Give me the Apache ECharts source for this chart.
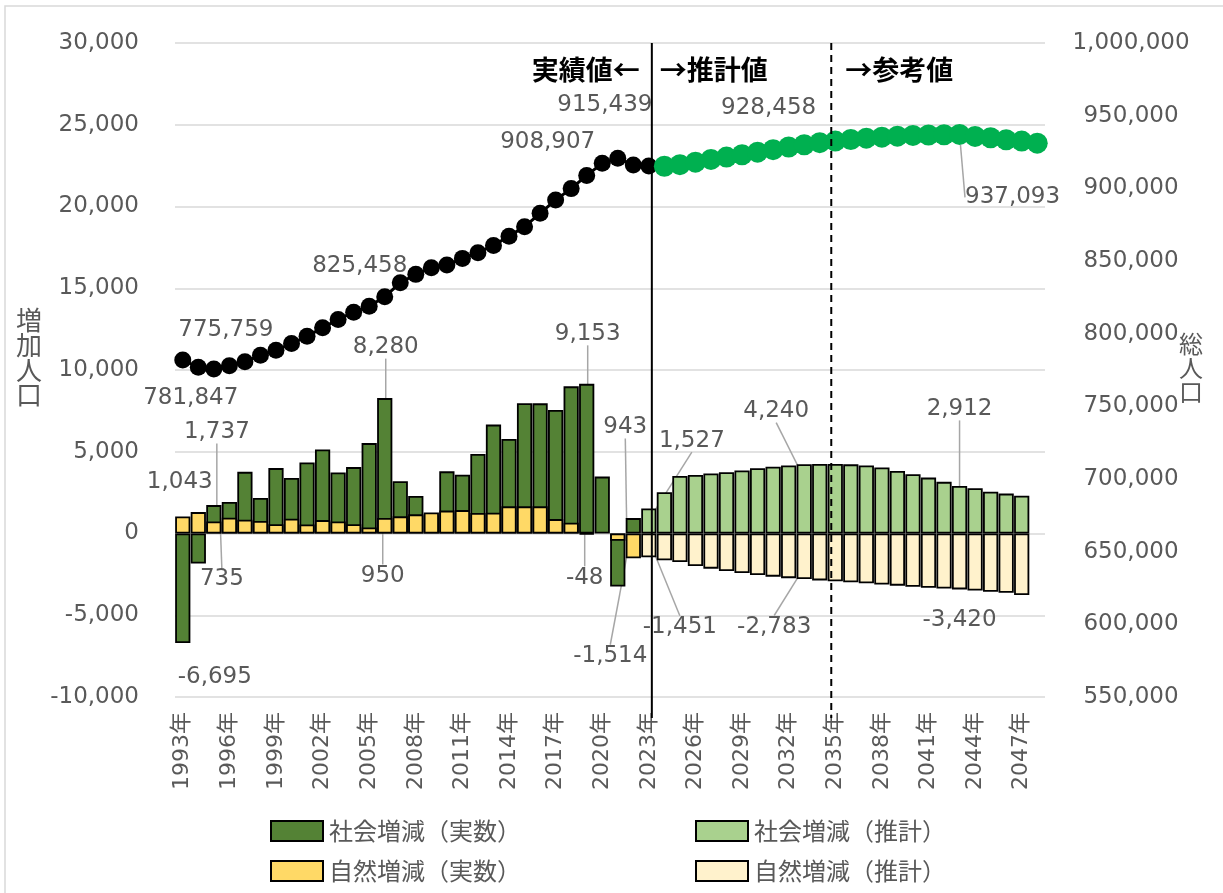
<!DOCTYPE html>
<html>
<head>
<meta charset="utf-8">
<script src="https://cdn.jsdelivr.net/npm/echarts@6/dist/echarts.min.js"></script>
<style>
html, body { margin: 0; padding: 0; background: #fff; overflow: hidden; }
#chart { width: 1223px; height: 893px; }
</style>
</head>
<body>
<div id="chart"></div>
<script>
const years = ['1993年','1994年','1995年','1996年','1997年','1998年','1999年','2000年','2001年','2002年',
	'2003年','2004年','2005年','2006年','2007年','2008年','2009年','2010年','2011年','2012年',
	'2013年','2014年','2015年','2016年','2017年','2018年','2019年','2020年','2021年','2022年',
	'2023年','2024年','2025年','2026年','2027年','2028年','2029年','2030年','2031年','2032年',
	'2033年','2034年','2035年','2036年','2037年','2038年','2039年','2040年','2041年','2042年',
	'2043年','2044年','2045年','2046年','2047年','2048年']

// 1993-2022 実数
const socialActual = [-6695, -1840, 1737, 1930, 3770, 2170, 4000, 3400, 4340, 5140,
	3730, 4060, 5530, 8280, 3200, 2300, 1100, 3800, 3600, 4860,
	6660, 5780, 7970, 7960, 7560, 9000, 9153, 3480, -3240, 943]
const naturalActual = [1043, 1310, 735, 960, 840, 760, 570, 900, 550, 820,
	740, 570, 370, 950, 1050, 1170, 1290, 1400, 1430, 1250,
	1270, 1660, 1660, 1660, 880, 660, -48, null, -450, -1514]

// 2023-2047 推計
const socialEstimate = [1527, 2520, 3520, 3580, 3670, 3750, 3850, 3990, 4080, 4160,
	4240, 4250, 4250, 4230, 4160, 4040, 3830, 3630, 3420, 3160,
	2912, 2770, 2560, 2440, 2310]
const naturalEstimate = [-1451, -1640, -1740, -1990, -2150, -2300, -2420, -2540, -2640, -2730,
	-2783, -2870, -2920, -2980, -3050, -3120, -3190, -3260, -3320, -3370,
	-3420, -3490, -3560, -3620, -3760]

// 総人口 1993-2023 / 2024-2048
const popActual = [781847, 776900, 775759, 778000, 780600, 785200, 788600, 793200, 798200, 804000,
	809800, 814800, 818900, 825458, 835000, 840800, 845400, 847200, 851800, 855700,
	860700, 867100, 873600, 882800, 892000, 899800, 908907, 917200, 920700, 916100, 915439]
const popEstimate = [915200, 916300, 918000, 919900, 921500, 923100, 924900, 926600, 928458, 930000,
	931400, 932500, 933600, 934500, 935200, 935900, 936400, 936700, 936900, 937093,
	935700, 934800, 933400, 932500, 931100]

const leftTicks = { min: -10000, max: 30000, interval: 5000 }
const rightTicks = { min: 550000, max: 1000000, interval: 50000 }

// 全期間の長さに揃える
const n = years.length
const pad = (arr, start) => {
	const out = []
	for (let i = 0; i < n; i++) {
		const v = arr[i - start]
		out.push(i >= start && v !== undefined ? v : null)
	}
	return out
}
const socialAll = pad(socialActual, 0).map((v, i) => (i >= 30 ? pad(socialEstimate, 30)[i] : v))
const naturalAll = pad(naturalActual, 0).map((v, i) => (i >= 30 ? pad(naturalEstimate, 30)[i] : v))
const popAll = pad(popActual, 0).map((v, i) => (i >= 31 ? pad(popEstimate, 31)[i] : v))

// ラベル位置（値の端からのずれ）と引き出し線
const socialLabels = { 0: [32, 34, false], 2: [3, -73, true], 13: [1, -51, true], 26: [1, -50, true],
	29: [-8, -91, true], 30: [43, -68, true], 40: [-28, -53, true], 50: [0, -77, true] }
const naturalLabels = { 0: [-3, -34, false], 2: [8, 58, true], 13: [-2, 58, true], 26: [-2, 43, true],
	29: [-23, 98, true], 30: [31, 70, true], 40: [-30, 48, true], 50: [0, 31, false] }
const popLabels = { 0: [8, 38, false], 2: [12, -39, false], 13: [-25, -31, false], 26: [-39, -33, false],
	30: [-44, -61, false], 39: [-20, -39, false], 50: [53, 63, true] }

const numFmt = p => Number(p.value).toLocaleString('en-US')
const labelText = {
	show: false,
	formatter: numFmt,
	color: '#595959',
	fontSize: 23,
	fontFamily: 'DejaVu Sans'
}
const leader = { show: false, lineStyle: { color: '#a6a6a6', width: 1.5 } }

function items(values, labels) {
	return values.map((v, i) => {
		if (v == null) return null
		const o = labels[i]
		if (!o) return v
		return { value: v, label: { show: true }, labelLine: { show: o[2] } }
	})
}

function layoutFor(values, labels, isLine) {
	return function (p) {
		const o = labels[p.dataIndex]
		if (!o) return {}
		const r = p.rect
		const cx = r.x + r.width / 2
		let ay
		if (isLine) ay = r.y + r.height / 2
		else ay = values[p.dataIndex] < 0 ? r.y + r.height : r.y
		return { x: cx + o[0], y: ay + o[1], align: 'center', verticalAlign: 'middle' }
	}
}

const barBase = {
	type: 'bar',
	barGap: '-100%',
	barCategoryGap: '2%',
	label: labelText,
	labelLine: leader
}

const socialActualData = socialAll.map((v, i) => (i < 30 ? v : null))
const socialEstData = socialAll.map((v, i) => (i >= 30 ? v : null))
const naturalActualData = naturalAll.map((v, i) => (i < 30 ? v : null))
const naturalEstData = naturalAll.map((v, i) => (i >= 30 ? v : null))
const popActualData = popAll.map((v, i) => (i <= 30 ? v : null))
const popEstData = popAll.map((v, i) => (i >= 31 ? v : null))

const series = [
	Object.assign({}, barBase, {
		name: '社会増減（実数）',
		data: items(socialActualData, socialLabels),
		itemStyle: { color: '#548235', borderColor: '#000', borderWidth: 1.8 },
		labelLayout: layoutFor(socialAll, socialLabels, false)
	}),
	Object.assign({}, barBase, {
		name: '自然増減（実数）',
		data: items(naturalActualData, naturalLabels),
		itemStyle: { color: '#FFD966', borderColor: '#000', borderWidth: 1.8 },
		labelLayout: layoutFor(naturalAll, naturalLabels, false)
	}),
	Object.assign({}, barBase, {
		name: '社会増減（推計）',
		data: items(socialEstData, socialLabels),
		itemStyle: { color: '#A9D18E', borderColor: '#000', borderWidth: 1.8 },
		labelLayout: layoutFor(socialAll, socialLabels, false)
	}),
	Object.assign({}, barBase, {
		name: '自然増減（推計）',
		data: items(naturalEstData, naturalLabels),
		itemStyle: { color: '#FFF2CC', borderColor: '#000', borderWidth: 1.8 },
		labelLayout: layoutFor(naturalAll, naturalLabels, false)
	}),
	{
		type: 'line',
		name: '総人口（実数）',
		yAxisIndex: 1,
		data: items(popActualData, popLabels),
		symbol: 'circle',
		symbolSize: 17,
		showAllSymbol: true,
		itemStyle: { color: '#000' },
		lineStyle: { color: '#000', width: 3 },
		label: labelText,
		labelLine: leader,
		labelLayout: layoutFor(popAll, popLabels, true),
		z: 5
	},
	{
		type: 'line',
		name: '総人口（推計）',
		yAxisIndex: 1,
		data: items(popEstData, popLabels),
		symbol: 'circle',
		symbolSize: 21,
		showAllSymbol: true,
		itemStyle: { color: '#00B050' },
		lineStyle: { color: '#00B050', width: 3 },
		label: labelText,
		labelLine: leader,
		labelLayout: layoutFor(popAll, popLabels, true),
		z: 5
	}
]

const legendBase = {
	icon: 'rect',
	itemWidth: 52,
	itemHeight: 20,
	itemGap: 0,
	padding: 0,
	textStyle: { fontSize: 24, color: '#595959', fontFamily: 'Noto Sans CJK JP', padding: [0, 0, 0, 1] }
}

const option = {
	backgroundColor: '#fff',
	animation: false,
	grid: { left: 175, right: 178, top: 43, bottom: 196 },
	xAxis: {
		type: 'category',
		data: years,
		axisLine: { show: false, onZero: false },
		axisTick: { show: false },
		axisLabel: {
			interval: 2,
			rotate: 90,
			margin: 15,
			color: '#595959',
			fontSize: 22,
			fontFamily: "'DejaVu Sans', 'Noto Sans CJK JP'"
		}
	},
	yAxis: [
		{
			type: 'value',
			min: leftTicks.min,
			max: leftTicks.max,
			interval: leftTicks.interval,
			axisLine: { show: false },
			axisTick: { show: false },
			axisLabel: {
				margin: 36,
				color: '#595959',
				fontSize: 23,
				fontFamily: 'DejaVu Sans',
				formatter: v => v.toLocaleString('en-US')
			},
			splitLine: { lineStyle: { color: '#d9d9d9', width: 1.5 } }
		},
		{
			type: 'value',
			min: rightTicks.min,
			max: rightTicks.max,
			interval: rightTicks.interval,
			axisLine: { show: false },
			axisTick: { show: false },
			axisLabel: {
				margin: 86,
				align: 'center',
				color: '#595959',
				fontSize: 23,
				fontFamily: 'DejaVu Sans',
				formatter: v => v.toLocaleString('en-US')
			},
			splitLine: { show: false }
		}
	],
	legend: [
		Object.assign({}, legendBase, { data: ['社会増減（実数）'], left: 270, top: 819 }),
		Object.assign({}, legendBase, { data: ['社会増減（推計）'], left: 695, top: 819 }),
		Object.assign({}, legendBase, { data: ['自然増減（実数）'], left: 270, top: 859 }),
		Object.assign({}, legendBase, { data: ['自然増減（推計）'], left: 695, top: 859 })
	],
	graphic: [
		{
			type: 'rect', id: 'frame', silent: true, z: -1,
			shape: { x: 5, y: 6, width: 1300, height: 1000 },
			style: { fill: 'none', stroke: '#d9d9d9', lineWidth: 1.5 }
		},
		{
			type: 'text', id: 'leftName', left: 16, top: 307,
			style: { text: '増\n加\n人\n口', fill: '#595959', font: "26px 'Noto Sans CJK JP'", lineHeight: 25, align: 'center' }
		},
		{
			type: 'text', id: 'rightName', left: 1179, top: 332,
			style: { text: '総\n人\n口', fill: '#595959', font: "24px 'Noto Sans CJK JP'", lineHeight: 24, align: 'center' }
		}
	],
	series
}

const chart = echarts.init(document.getElementById('chart'))
chart.setOption(option)

// 実績／推計／参考の区切り線
const xSolid = chart.convertToPixel({ xAxisIndex: 0 }, '2023年') + 3
const xDash = chart.convertToPixel({ xAxisIndex: 0 }, '2035年') - 4
const headFont = "bold 27px 'Noto Sans CJK JP'"
chart.setOption({
	graphic: [
		{
			type: 'line', id: 'solidLine', z: 100, silent: true,
			shape: { x1: xSolid, y1: 43, x2: xSolid, y2: 718 },
			style: { stroke: '#000', lineWidth: 2 }
		},
		{
			type: 'line', id: 'dashLine', z: 100, silent: true,
			shape: { x1: xDash, y1: 43, x2: xDash, y2: 718 },
			style: { stroke: '#000', lineWidth: 2, lineDash: [7, 5] }
		},
		{
			type: 'text', id: 'head1', z: 100, x: xSolid - 12, y: 70,
			style: { text: '実績値←', font: headFont, fill: '#000', align: 'right', verticalAlign: 'middle' }
		},
		{
			type: 'text', id: 'head2', z: 100, x: xSolid + 8, y: 70,
			style: { text: '→推計値', font: headFont, fill: '#000', align: 'left', verticalAlign: 'middle' }
		},
		{
			type: 'text', id: 'head3', z: 100, x: xDash + 14, y: 70,
			style: { text: '→参考値', font: headFont, fill: '#000', align: 'left', verticalAlign: 'middle' }
		}
	]
})
</script>
</body>
</html>
